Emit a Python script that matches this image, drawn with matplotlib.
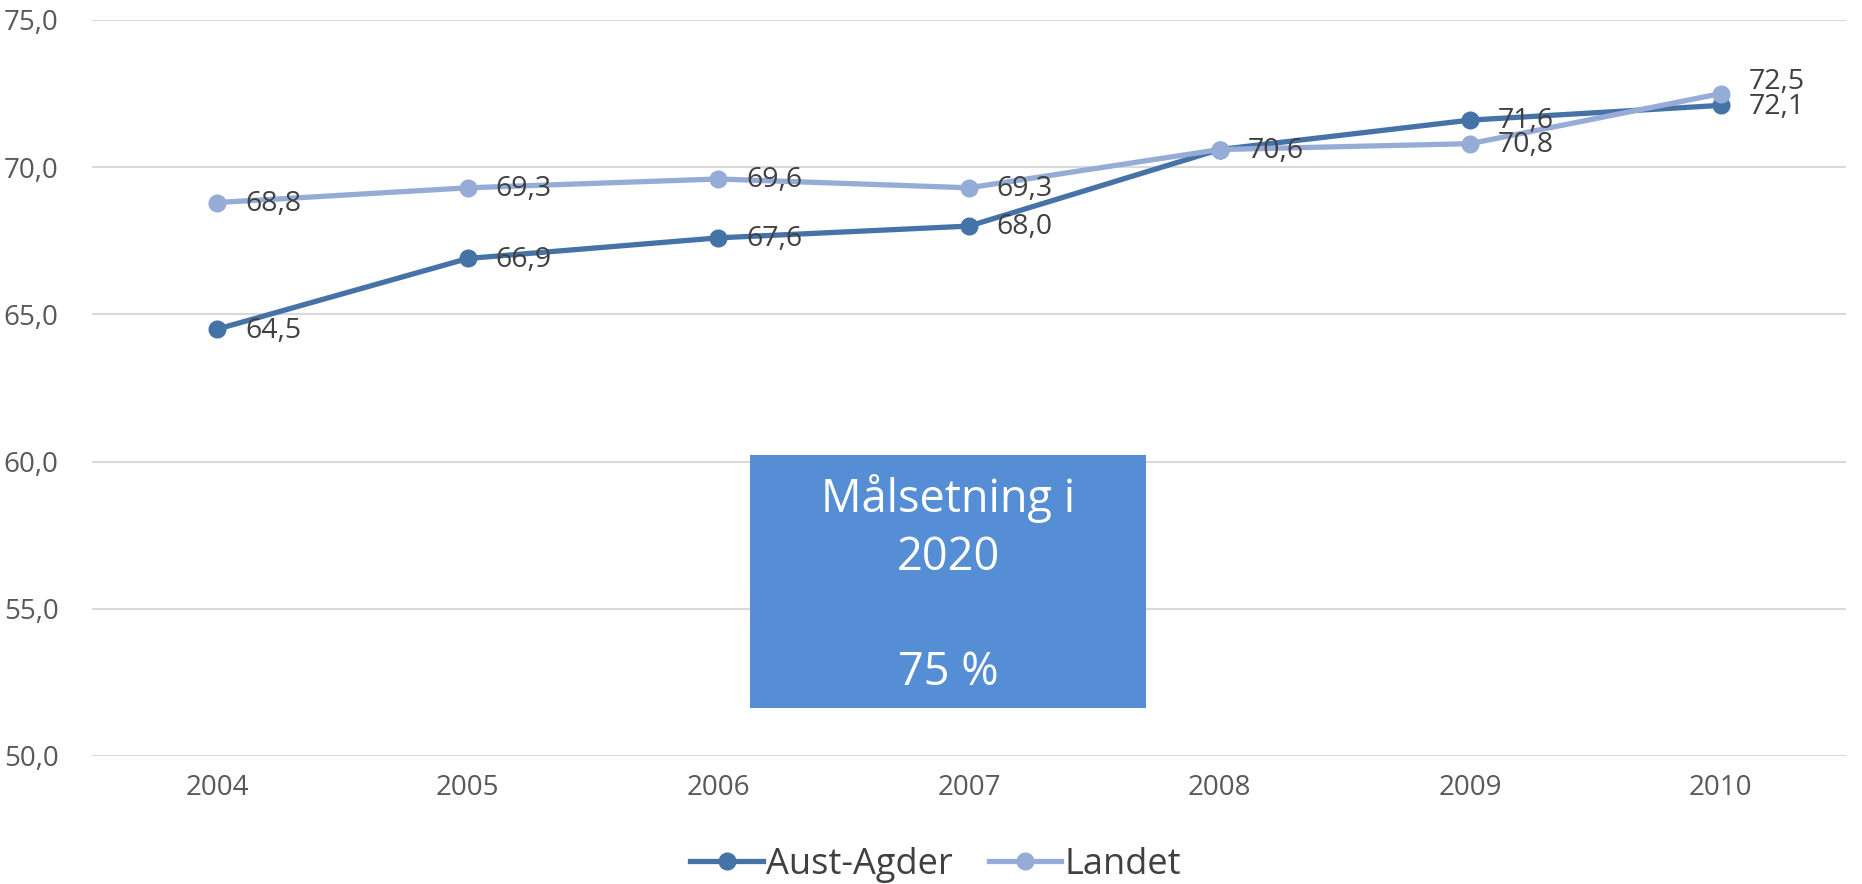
import matplotlib
matplotlib.use("Agg")
import matplotlib.pyplot as plt
from matplotlib.patches import Rectangle

plt.rcParams["font.family"] = ["Open Sans", "DejaVu Sans"]

years = ["2004", "2005", "2006", "2007", "2008", "2009", "2010"]
aust_agder = [64.5, 66.9, 67.6, 68.0, 70.6, 71.6, 72.1]
landet = [68.8, 69.3, 69.6, 69.3, 70.6, 70.8, 72.5]
y_ticks = [50, 55, 60, 65, 70, 75]

dark_blue = "#4572A7"
light_blue = "#95ADD6"
label_color = "#404040"
tick_color = "#595959"

fig = plt.figure(figsize=(18.62, 8.84), dpi=100)
ax = fig.add_axes([92 / 1862, 1 - 756 / 884, (1846 - 92) / 1862, (756 - 20) / 884])

x = list(range(len(years)))
ax.plot(x, aust_agder, "-o", color=dark_blue, linewidth=3.8, markersize=12, label="Aust-Agder", zorder=3)
ax.plot(x, landet, "-o", color=light_blue, linewidth=3.8, markersize=12, label="Landet", zorder=4)

def fmt(v):
    return f"{v:.1f}".replace(".", ",")

for i, v in enumerate(aust_agder):
    ax.annotate(fmt(v), (i, v), xytext=(20, -1), textcoords="offset points",
                va="center", ha="left", fontsize=20.5, color=label_color, zorder=5)
for i, v in enumerate(landet):
    dy = 8 if i == len(landet) - 1 else -1
    if i == 4:
        continue  # same value as Aust-Agder, one label only
    ax.annotate(fmt(v), (i, v), xytext=(20, dy), textcoords="offset points",
                va="center", ha="left", fontsize=20.5, color=label_color, zorder=5)

ax.set_xlim(-0.5, len(years) - 0.5)
ax.set_ylim(50, 75)
ax.set_xticks(x)
ax.set_xticklabels(years)
ax.set_yticks(y_ticks)
ax.set_yticklabels([fmt(t) for t in y_ticks])
ax.tick_params(axis="both", length=0, labelsize=20, colors=tick_color)
ax.tick_params(axis="x", pad=13)
ax.tick_params(axis="y", pad=24)
for s in ax.spines.values():
    s.set_visible(False)
ax.grid(axis="y", color="#D9D9D9", linewidth=1.5)
ax.set_axisbelow(True)

# target box
W, H = 1862, 884
box = Rectangle((750 / W, 1 - 708 / H), (1146 - 750) / W, (708 - 455) / H,
                transform=fig.transFigure, facecolor="#558ED5", edgecolor="none", zorder=6)
fig.patches.append(box)
cx = 948 / W
for txt, base in [("Målsetning i", 512), ("2020", 570), ("75 %", 685)]:
    fig.text(cx, 1 - base / H, txt, ha="center", va="baseline", fontsize=32.5,
             color="white", zorder=7)

fig.legend(loc="center", bbox_to_anchor=(936 / W, 1 - 865 / H), ncol=2, frameon=False,
           fontsize=26, labelcolor=label_color, handlelength=2.0, handletextpad=0.1,
           columnspacing=1.0)

fig.savefig("out.png", dpi=100)
